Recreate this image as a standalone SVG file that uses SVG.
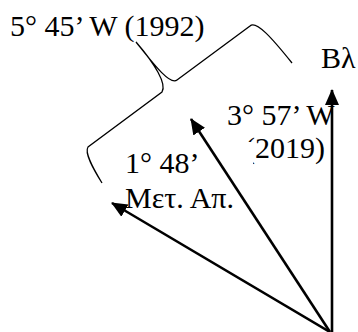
<svg xmlns="http://www.w3.org/2000/svg" width="358" height="332" viewBox="0 0 358 332">
<style>
.t{font-family:'Liberation Serif','Times New Roman',serif;font-size:30px;fill:#000}
.arrow{stroke:#000;stroke-width:2.6;fill:none;marker-end:url(#ah)}
.brace{stroke:#000;stroke-width:1.3;fill:none}
</style>
<defs>
<marker id="ah" markerUnits="userSpaceOnUse" markerWidth="16" markerHeight="16" viewBox="0 0 16 16" refX="15" refY="8" orient="auto">
<path d="M0,1 L16,8 L0,15 Z" fill="#000"/>
</marker>
<clipPath id="cp"><rect x="200" y="100" width="200" height="42"/><rect x="253" y="100" width="150" height="80"/></clipPath>
</defs>
<rect width="358" height="332" fill="#fff"/>
<g id="connectors">
<path class="arrow" d="M332,334 L332,90"/>
<path class="arrow" d="M330,332 L191,119"/>
<path class="arrow" d="M330,332 L112,203"/>
</g>
<g id="brace">
<path class="brace" d="M102,183 C94,170 84,153 88,147 L162,92 C167,84 155,64 136,42 C152,62 170,86 177,80 L250,26 C256,20 272,38 292,63"/>
</g>
<g id="label-1992"><text class="t" x="10" y="36">5° 45’ W (1992)</text></g>
<g id="label-north"><text class="t" x="321" y="68">Βλ</text></g>
<g id="label-2019"><text class="t" x="227" y="125">3° 57’ W</text><text class="t" x="245" y="158" clip-path="url(#cp)">(2019)</text></g>
<g id="label-magnetic"><text class="t" x="125" y="173">1° 48’</text><text class="t" x="125" y="208">Μετ. Απ.</text></g>
</svg>
